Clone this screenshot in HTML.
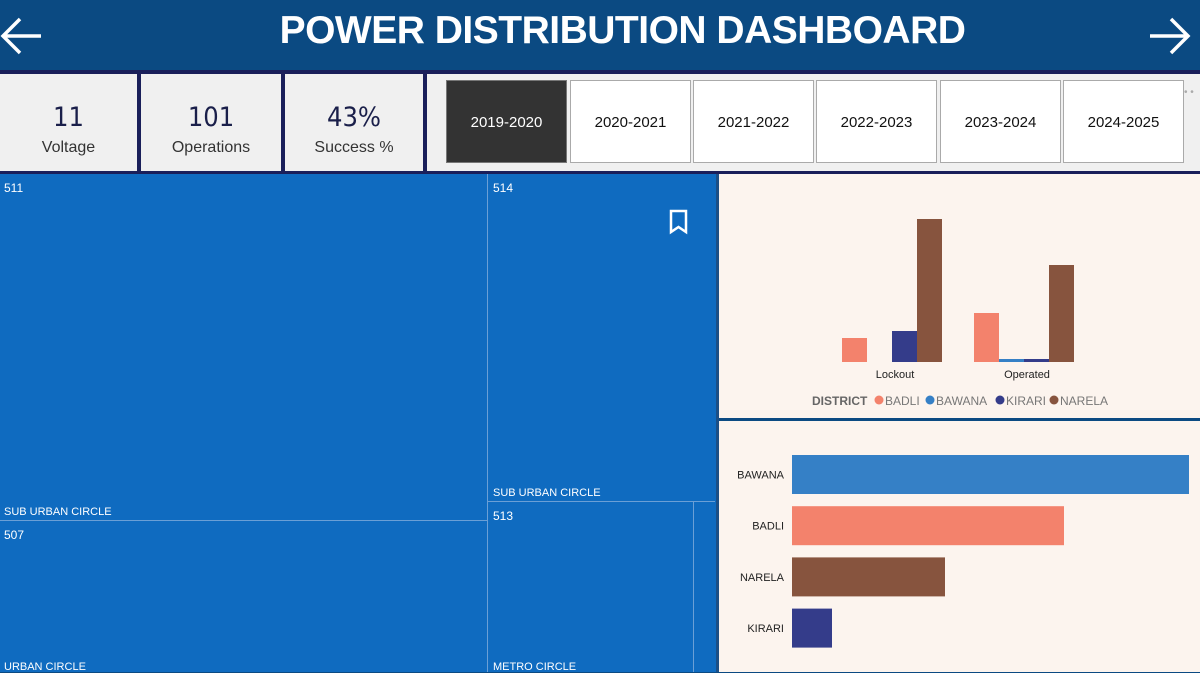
<!DOCTYPE html>
<html><head><meta charset="utf-8">
<style>
*{margin:0;padding:0;box-sizing:border-box}
body{width:1200px;height:672px;overflow:hidden;background:#0b4a82;font-family:"Liberation Sans","DejaVu Sans",sans-serif;position:relative}
.abs{position:absolute}
.kpi{position:absolute;top:72px;height:101px;background:#f0f0f0;border:2px solid #1a1f5a;text-align:center;color:#1a1f4a}
.kpi .v{font-size:27px;margin-top:28px;font-family:"DejaVu Sans Condensed","DejaVu Sans",sans-serif}
.kpi .l{font-size:16px;color:#333;margin-top:6px}
.yr{position:absolute;top:80px;width:121px;height:83px;background:#fff;border:1px solid #aaa;font-size:15px;line-height:83px;text-align:center;color:#111}
.tm{position:absolute;background:#0f6bc0;color:#fff;font-size:11px}
.tm .n{position:absolute;left:4px;top:7px;font-size:12px}
.tm .c{position:absolute;left:4px;bottom:2px}
</style></head><body>
<div class="abs" style="left:0;top:0;width:1200px;height:70px;background:#0b4a82"></div>
<svg class="abs" style="left:0;top:8px" width="44" height="48"><path d="M41 28H3M20 11L3 28L20 45" stroke="#fff" stroke-width="3.5" fill="none"/></svg>
<div class="abs" style="left:0;top:9px;width:1245px;text-align:center;color:#fff;font-size:39px;font-weight:bold;letter-spacing:-0.5px">POWER DISTRIBUTION DASHBOARD</div>
<svg class="abs" style="left:1148px;top:8px" width="44" height="48"><path d="M2 28H40M23 11L40 28L23 45" stroke="#fff" stroke-width="3.5" fill="none"/></svg>
<div class="abs" style="left:0;top:70px;width:1200px;height:3px;background:#1a1f5a"></div>

<div class="kpi" style="left:-2px;width:141px"><div class="v">11</div><div class="l">Voltage</div></div>
<div class="kpi" style="left:139px;width:144px"><div class="v">101</div><div class="l">Operations</div></div>
<div class="kpi" style="left:283px;width:142px"><div class="v">43%</div><div class="l">Success %</div></div>
<div class="abs" style="left:425px;top:72px;width:775px;height:101px;background:#f0f0f0;border:2px solid #1a1f5a;border-right:none"></div>
<div class="yr" style="left:446px;background:#333;color:#fff;border-color:#777">2019-2020</div>
<div class="yr" style="left:570px">2020-2021</div>
<div class="yr" style="left:693px">2021-2022</div>
<div class="yr" style="left:816px">2022-2023</div>
<div class="yr" style="left:940px">2023-2024</div>
<div class="yr" style="left:1063px">2024-2025</div>
<div class="abs" style="left:1184px;top:87px;color:#aaa;font-size:10px">• •</div>
<div class="abs" style="left:0;top:172px;width:1200px;height:2px;background:#1a1f5a"></div>

<div class="abs" style="left:0;top:174px;width:716px;height:498px;background:#0f6bc0">
<div class="tm" style="left:0;top:0;width:488px;height:347px;border-right:1px solid #6a9fd6;border-bottom:1px solid #6a9fd6"><span class="n">511</span><span class="c">SUB URBAN CIRCLE</span></div>
<div class="tm" style="left:0;top:347px;width:488px;height:151px;border-right:1px solid #6a9fd6"><span class="n">507</span><span class="c" style="bottom:-1px">URBAN CIRCLE</span></div>
<div class="tm" style="left:488px;top:0;width:227px;height:328px;border-bottom:1px solid #6a9fd6"><span class="n" style="left:5px">514</span><span class="c" style="left:5px">SUB URBAN CIRCLE</span>
<svg style="position:absolute;left:181px;top:35px" width="19" height="26"><path d="M2 2H17V23L9.5 18L2 23Z" stroke="#fff" stroke-width="2.5" fill="none"/></svg></div>
<div class="tm" style="left:488px;top:328px;width:206px;height:170px;border-right:1px solid #6a9fd6"><span class="n" style="left:5px">513</span><span class="c" style="left:5px;bottom:-1px">METRO CIRCLE</span></div>
<div class="tm" style="left:694px;top:328px;width:21px;height:170px"></div>
</div>
<div class="abs" style="left:716px;top:174px;width:3px;height:498px;background:#1b4f86"></div>

<div class="abs" style="left:719px;top:174px;width:481px;height:244px;background:#fcf4ee"></div>
<div class="abs" style="left:719px;top:418px;width:481px;height:3px;background:#0b4a82"></div>
<div class="abs" style="left:719px;top:421px;width:481px;height:251px;background:#fcf4ee"></div>
<svg class="abs" id="charts" style="left:0;top:0" width="1200" height="672"></svg>

<script>
const colCategories=["Lockout","Operated"];
const districts=["BADLI","BAWANA","KIRARI","NARELA"];
const badliVals=[24,49];
const bawanaVals=[0,3];
const kirariVals=[31,3];
const narelaVals=[143,97];
const colors={BADLI:"#f3826c",BAWANA:"#3580c6",KIRARI:"#343c8a",NARELA:"#87543e"};
const barCats=["BAWANA","BADLI","NARELA","KIRARI"];
const barVals=[397,272,153,40];

const NS="http://www.w3.org/2000/svg";
const svg=document.getElementById("charts");
function mk(t,a){const e=document.createElementNS(NS,t);for(const k in a)e.setAttribute(k,a[k]);svg.appendChild(e);return e;}
const base=362, yScale=v=>v*1.0;
const groupX=i=>842+i*132, bw=25;
const series=[badliVals,bawanaVals,kirariVals,narelaVals];
series.forEach((vals,s)=>{vals.forEach((v,i)=>{if(v<=0)return;
 const r=mk("rect",{x:groupX(i)+s*bw,y:base-yScale(v),width:bw,height:yScale(v),fill:colors[districts[s]]});
 
 
});});
colCategories.forEach((c,i)=>{const t=mk("text",{x:groupX(i)+2*bw+3,y:378,"text-anchor":"middle","font-size":11,fill:"#222"});t.textContent=c;
 
 });
let lt=mk("text",{x:812,y:405,"font-size":12,"font-weight":"bold",fill:"#666"});lt.textContent="DISTRICT";


const lx=[879,930,1000,1054];
districts.forEach((d,i)=>{const c=mk("circle",{cx:lx[i],cy:400,r:4.5,fill:colors[d]});
 
 
 const t=mk("text",{x:lx[i]+6,y:405,"font-size":12,fill:"#777"});t.textContent=d;
 
 });
const x0=792, xScale=v=>v*1.0, rowY=i=>455+i*51.2, bh=39;
barCats.forEach((c,i)=>{const r=mk("rect",{x:x0,y:rowY(i),width:xScale(barVals[i]),height:bh,fill:colors[c]});
 
 
 const t=mk("text",{x:784,y:rowY(i)+bh/2+4,"text-anchor":"end","font-size":11,fill:"#222"});t.textContent=c;
 
 });
</script>
</body></html>
